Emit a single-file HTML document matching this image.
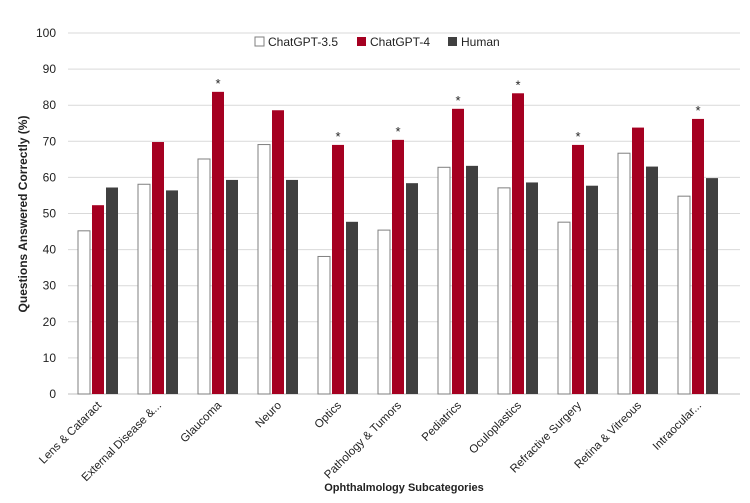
<!DOCTYPE html>
<html><head><meta charset="utf-8"><style>
body{margin:0;background:#fff;font-family:"Liberation Sans",sans-serif}
svg text{font-family:"Liberation Sans",sans-serif;fill:#222}
</style></head><body>
<svg id="c" width="750" height="498" xmlns="http://www.w3.org/2000/svg"></svg>
<script>
const categories=["Lens & Cataract","External Disease &...","Glaucoma","Neuro","Optics","Pathology & Tumors","Pediatrics","Oculoplastics","Refractive Surgery","Retina & Vitreous","Intraocular..."];
const gpt35=[45.2,58.1,65.1,69.1,38.1,45.4,62.8,57.1,47.6,66.7,54.8];
const gpt4=[52.3,69.8,83.7,78.6,69.0,70.4,79.0,83.3,69.0,73.8,76.2];
const human=[57.2,56.4,59.3,59.3,47.7,58.4,63.2,58.6,57.7,63.0,59.8];
const significant=[false,false,true,false,true,true,true,true,true,false,true];
const yTicks=[0,10,20,30,40,50,60,70,80,90,100];
const NS="http://www.w3.org/2000/svg",svg=document.getElementById("c");
const y0=394,y100=33,left=68,step=60,bw=12;
const y=v=>y0-(y0-y100)*v/100;
const xc=i=>left+step*(i+0.5);
function el(t,a,p){const e=document.createElementNS(NS,t);for(const k in a)e.setAttribute(k,a[k]);(p||svg).appendChild(e);return e;}
yTicks.forEach(t=>{
 const g=el("line",{x1:68,x2:740,y1:y(t),y2:y(t),stroke:t===0?"#bfbfbf":"#d9d9d9","stroke-width":1});
 
 
 const l=el("text",{x:56,y:y(t)+4,"text-anchor":"end","font-size":12});l.textContent=t;
 
 
});
const series=[[gpt35,"#fff","#7f7f7f",-14,"gpt35"],[gpt4,"#a50021","none",0,"gpt4"],[human,"#404040","none",14,"human"]];
categories.forEach((c,i)=>{
 series.forEach(s=>{
  const v=s[0][i];
  const r=el("rect",{x:xc(i)+s[3]-bw/2,y:y(v),width:bw,height:y0-y(v),fill:s[1],stroke:s[2],"stroke-width":s[2]==="none"?0:1});
  
  
 });
 if(significant[i]){const st=el("text",{x:xc(i),y:y(gpt4[i])-4,"text-anchor":"middle","font-size":13});st.textContent="*";
  
  }
 const t=el("text",{x:xc(i)+4,y:y0+12,"text-anchor":"end","font-size":11.5,transform:`rotate(-45 ${xc(i)+4} ${y0+12})`});
 t.textContent=c;
 
 
});
const yt=el("text",{x:0,y:0,"text-anchor":"middle","font-size":12,"font-weight":"bold",transform:"translate(27 214) rotate(-90)"});
yt.textContent="Questions Answered Correctly (%)";


const xt=el("text",{x:404,y:491,"text-anchor":"middle","font-size":11,"font-weight":"bold"});
xt.textContent="Ophthalmology Subcategories";


const leg=[["ChatGPT-3.5","#fff","#7f7f7f",255],["ChatGPT-4","#a50021","none",357],["Human","#404040","none",448]];
leg.forEach(l=>{
 const g=el("g",{});
 
 
 el("rect",{x:l[3],y:37,width:9,height:9,fill:l[1],stroke:l[2],"stroke-width":l[2]==="none"?0:1},g);
 const t=el("text",{x:l[3]+13,y:46,"font-size":12},g);t.textContent=l[0];
});
</script>
</body></html>
